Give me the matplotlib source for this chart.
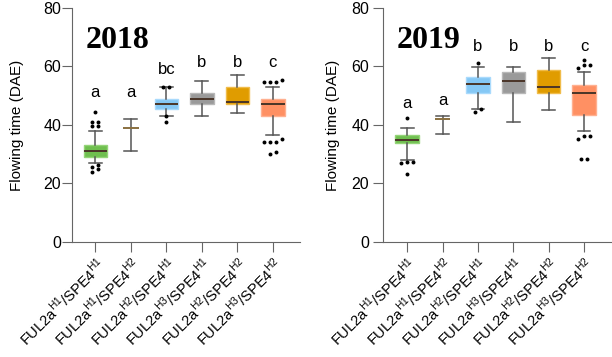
import numpy as np
import matplotlib.pyplot as plt

plt.rcParams['font.family'] = ['Liberation Sans', 'DejaVu Sans']

genotypes = [r'FUL2a$^{\mathregular{H1}}$/SPE4$^{\mathregular{H1}}$',
             r'FUL2a$^{\mathregular{H1}}$/SPE4$^{\mathregular{H2}}$',
             r'FUL2a$^{\mathregular{H2}}$/SPE4$^{\mathregular{H1}}$',
             r'FUL2a$^{\mathregular{H3}}$/SPE4$^{\mathregular{H1}}$',
             r'FUL2a$^{\mathregular{H2}}$/SPE4$^{\mathregular{H2}}$',
             r'FUL2a$^{\mathregular{H3}}$/SPE4$^{\mathregular{H2}}$']
box_colors = ['#6fbf4f', None, '#85c8f5', '#9a9a9a', '#e09c00', '#ff9063']
edge_colors = ['#94d478', None, '#a9dafc', '#b8b8b8', '#f0bc4a', '#ffb090']

# 2018 : whislo, q1, med, q3, whishi
whislo_2018 = [27, 31, 43, 43, 44, 36.5]
q1_2018 = [29, 39, 45.5, 47, 47.3, 43]
med_2018 = [31, 39, 47, 49, 48, 47]
q3_2018 = [33, 39, 49, 51, 53, 49]
whishi_2018 = [37.8, 42, 53, 55, 57, 53]
fliers_2018 = [[44.5, 41, 41, 39.5, 39.5, 26.2, 25.8, 24.8, 24],
               [], [53, 53, 43, 41], [], [],
               [55.3, 54.8, 54.8, 54.8, 35.3, 34.3, 34.3, 34.3, 30.8, 30]]
letters_2018 = ['a', 'a', 'bc', 'b', 'b', 'c']
letter_y_2018 = [51, 51, 59, 61.5, 61.5, 61.5]

# 2019
whislo_2019 = [28, 37, 45.5, 41, 45, 38]
q1_2019 = [34, 42, 51, 51, 51, 43.3]
med_2019 = [35, 42, 54, 55, 53, 51]
q3_2019 = [36.7, 42, 56.3, 58, 58.7, 53.8]
whishi_2019 = [38.8, 43, 59.8, 59.8, 63, 58]
fliers_2019 = [[42.3, 27.4, 27.4, 27.1, 23.2],
               [], [61.3, 45.4, 44.4], [], [],
               [62.1, 60.4, 60.4, 59.5, 36.2, 36.2, 35.2, 28.2, 28.2]]
letters_2019 = ['a', 'a', 'b', 'b', 'b', 'c']
letter_y_2019 = [47.3, 48.4, 66.8, 66.8, 66.8, 66.8]


def swarm_offsets(vals, gap=1.1, step=0.17):
    # spread near-equal outliers sideways, like a small beeswarm
    vals = np.asarray(vals, dtype=float)
    offs = np.zeros(len(vals))
    if len(vals) == 0:
        return offs
    order = np.argsort(vals)
    groups, cur = [], [order[0]]
    for i in order[1:]:
        if vals[i] - vals[cur[0]] < gap:
            cur.append(i)
        else:
            groups.append(cur)
            cur = [i]
    groups.append(cur)
    for g in groups:
        n = len(g)
        for k, i in enumerate(g):
            offs[i] = (k - (n - 1) / 2) * step
    return offs


def panel(ax, year, wlo, q1, med, q3, whi, fliers, letters, letter_y, xlim,
          ypad, lpad):
    pos = np.arange(1, len(genotypes) + 1)
    stats = []
    for i in range(len(genotypes)):
        stats.append(dict(whislo=wlo[i], q1=q1[i], med=med[i], q3=q3[i],
                          whishi=whi[i], fliers=[]))
    bp = ax.bxp(stats, positions=pos, widths=0.66, patch_artist=True,
                showfliers=False,
                whiskerprops=dict(color='#555555', lw=1.1),
                capprops=dict(color='#555555', lw=1.1),
                medianprops=dict(color='#4a3528', lw=1.4),
                boxprops=dict(lw=1.0))
    for caps in bp['caps']:
        c = caps.get_xdata().mean()
        caps.set_xdata([c - 0.18, c + 0.18])
    for i, b in enumerate(bp['boxes']):
        if box_colors[i] is None:
            b.set_facecolor('none')
            b.set_edgecolor('none')
            bp['medians'][i].set_color('#8a7040')
            c = bp['medians'][i].get_xdata().mean()
            bp['medians'][i].set_xdata([c - 0.22, c + 0.22])
        else:
            b.set_facecolor(box_colors[i])
            b.set_edgecolor(edge_colors[i])
    for i, f in enumerate(fliers):
        if f:
            ax.scatter(pos[i] + swarm_offsets(f), f, s=8, color='black',
                       zorder=4, linewidths=0)
    for i, t in enumerate(letters):
        ax.text(pos[i], letter_y[i], t, ha='center', va='center', fontsize=12)
    ax.text(0.06, 0.86, year, transform=ax.transAxes, fontsize=23,
            fontweight='bold', family='Liberation Serif', va='center')
    ax.set_ylim(0, 80)
    ax.set_xlim(*xlim)
    ax.set_yticks([0, 20, 40, 60, 80])
    ax.set_xticks(pos)
    ax.set_xticklabels(genotypes, rotation=45, ha='right',
                       rotation_mode='anchor', fontsize=10.5)
    ax.set_ylabel('Flowing time (DAE)', fontsize=11, labelpad=lpad)
    for s in ['top', 'right']:
        ax.spines[s].set_visible(False)
    for s in ['left', 'bottom']:
        ax.spines[s].set_color('#666666')
    ax.tick_params(axis='both', colors='#666666', labelcolor='black',
                   length=7)
    ax.tick_params(axis='y', pad=ypad, labelsize=11.5)
    ax.tick_params(axis='x', pad=2)


fig = plt.figure(figsize=(6.12, 3.57), dpi=100)
ax1 = fig.add_axes([0.118, 0.322, 0.372, 0.656])
ax2 = fig.add_axes([0.626, 0.322, 0.374, 0.656])
panel(ax1, '2018', whislo_2018, q1_2018, med_2018, q3_2018, whishi_2018,
      fliers_2018, letters_2018, letter_y_2018, (0.35, 6.76), 1, 14)
panel(ax2, '2019', whislo_2019, q1_2019, med_2019, q3_2019, whishi_2019,
      fliers_2019, letters_2019, letter_y_2019, (0.32, 6.79), 3, 8)
fig.savefig('out.png', dpi=100)
